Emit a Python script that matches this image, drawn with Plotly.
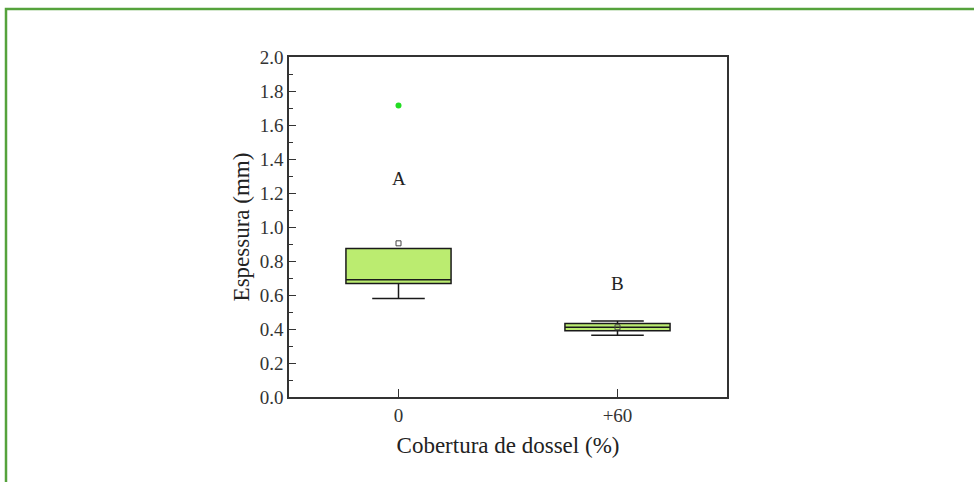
import plotly.graph_objects as go

# Canopy cover groups and leaf thickness summary statistics (mm)
categorias = ["0", "+60"]
q1 = [0.667, 0.390]
mediana = [0.690, 0.410]
q3 = [0.873, 0.432]
limite_inferior = [0.580, 0.363]
limite_superior = [0.873, 0.447]
media = [0.904, 0.410]
outlier_x = ["0"]
outlier_y = [1.714]
letras = ["A", "B"]
letras_y = [1.285, 0.669]

FONT = "Liberation Serif"

fig = go.Figure()

fig.add_trace(go.Box(
    x=categorias,
    q1=q1, median=mediana, q3=q3,
    lowerfence=limite_inferior, upperfence=limite_superior,
    fillcolor="#bbec70",
    line=dict(color="#1a1a1a", width=1.5),
    width=0.48,
    whiskerwidth=0.5,
    boxpoints=False,
    showlegend=False,
    hoverinfo="skip",
))

# mean markers
fig.add_trace(go.Scatter(
    x=categorias, y=media, mode="markers",
    marker=dict(symbol="square-open", size=5, color="#444", line=dict(width=1)),
    showlegend=False,
))

# outlier
fig.add_trace(go.Scatter(
    x=outlier_x, y=outlier_y, mode="markers",
    marker=dict(symbol="circle", size=6, color="#22dd22"),
    showlegend=False,
))

# significance letters (placed by category index)
for i, (l, yv) in enumerate(zip(letras, letras_y)):
    fig.add_annotation(x=i, y=yv, xref="x", yref="y", text=l, showarrow=False,
                       font=dict(family=FONT, size=19, color="#222"))

# outer green frame
fig.add_shape(type="rect", xref="paper", yref="paper",
              x0=(6 - 289) / 438, x1=(990 - 289) / 438,
              y0=-(500 - 397) / 340, y1=1 + (57 - 9) / 340,
              line=dict(color="#55a23c", width=2.5), fillcolor="rgba(0,0,0,0)",
              layer="below")

fig.update_layout(
    width=974, height=482,
    margin=dict(l=289, r=247, t=57, b=85),
    paper_bgcolor="white", plot_bgcolor="white",
    font=dict(family=FONT, color="#222"),
    xaxis=dict(
        type="category", range=[-0.5, 1.5],
        showline=True, linecolor="#333", linewidth=1.5, mirror=True,
        ticks="inside", ticklen=8, tickcolor="#333", tickwidth=1.2,
        tickfont=dict(family=FONT, size=19, color="#333"),
        title=dict(text="Cobertura de dossel (%)", font=dict(family=FONT, size=23, color="#222"), standoff=12),
        showgrid=False, zeroline=False,
    ),
    yaxis=dict(
        range=[0, 2.0], dtick=0.2, tickformat=".1f",
        showline=True, linecolor="#333", linewidth=1.5, mirror=True,
        ticks="inside", ticklen=7, tickcolor="#333", tickwidth=1.2,
        minor=dict(dtick=0.1, ticks="inside", ticklen=4, tickcolor="#333", tickwidth=1),
        tickfont=dict(family=FONT, size=19, color="#333"),
        title=dict(text="Espessura (mm)", font=dict(family=FONT, size=23, color="#222"), standoff=4),
        showgrid=False, zeroline=False,
    ),
)

fig.write_html("out.html")
